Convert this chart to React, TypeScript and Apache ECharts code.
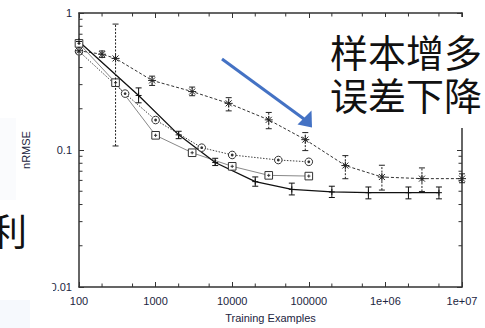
import React, { useEffect, useRef } from "react";
import * as echarts from "echarts";

// ---- data ----
const xMinorTicks = [200, 500, 2000, 5000, 20000, 50000, 200000, 500000, 2000000, 5000000];
const yMinorTicks = [0.02, 0.03, 0.04, 0.05, 0.06, 0.07, 0.08, 0.09, 0.2, 0.3, 0.4, 0.5, 0.6, 0.7, 0.8, 0.9];

const solidX = [100, 600, 2000, 6000, 20000, 60000, 200000, 600000, 2000000, 5000000];
const solidY = [0.62, 0.25, 0.129, 0.081, 0.0588, 0.0516, 0.0494, 0.0488, 0.0488, 0.0488];
const solidLo = [null, 0.221, 0.121, 0.077, 0.0544, 0.047, 0.045, 0.044, 0.044, 0.044];
const solidHi = [null, 0.284, 0.137, 0.087, 0.0636, 0.0573, 0.0544, 0.0537, 0.0537, 0.0537];

const starX = [100, 200, 300, 900, 3000, 9000, 30000, 90000, 300000, 900000, 3000000, 10000000];
const starY = [0.53, 0.5, 0.466, 0.322, 0.267, 0.219, 0.166, 0.119, 0.077, 0.0635, 0.0618, 0.0618];
const starLo = [null, 0.474, 0.107, 0.296, 0.249, 0.193, 0.143, 0.099, 0.0617, 0.051, 0.0498, 0.0577];
const starHi = [null, 0.528, 0.83, 0.346, 0.288, 0.241, 0.188, 0.134, 0.091, 0.0774, 0.074, 0.067];

const circX = [100, 400, 1000, 4000, 10000, 40000, 100000];
const circY = [0.525, 0.258, 0.1655, 0.104, 0.092, 0.0845, 0.082];

const sqX = [100, 300, 1000, 3000, 10000, 30000, 100000];
const sqY = [0.6, 0.31, 0.128, 0.0955, 0.076, 0.0653, 0.0645];

const xAxisName = "Training Examples";
const yAxisName = "nRMSE";
const noteLines = ["样本增多", "误差下降"];
const sideChar = "利";

// ---- styles ----
const LABEL_COLOR = "#1c2541";
const AXIS_COLOR = "#333";
const FONT = "Liberation Sans, Arial, sans-serif";

function markerSeries(
  xs: number[],
  ys: number[],
  lo: (number | null)[] | null,
  hi: (number | null)[] | null,
  kind: string,
  color: string,
  dashedBars: boolean
) {
  return {
    type: "custom",
    xAxisIndex: 0,
    yAxisIndex: 0,
    silent: true,
    z: 4,
    data: xs.map((x, i) => [x, ys[i]]),
    encode: { x: 0, y: 1 },
    renderItem: (params: any, api: any) => {
      const i = params.dataIndex;
      const p = api.coord([xs[i], ys[i]]);
      const children: any[] = [];
      if (lo && hi && lo[i] != null && hi[i] != null) {
        const a = api.coord([xs[i], lo[i]]);
        const b = api.coord([xs[i], hi[i]]);
        const st: any = { stroke: color, lineWidth: 1 };
        if (dashedBars) st.lineDash = [2, 1.5];
        children.push({ type: "line", shape: { x1: p[0], y1: a[1], x2: p[0], y2: b[1] }, style: st });
        children.push({ type: "line", shape: { x1: p[0] - 3, y1: a[1], x2: p[0] + 3, y2: a[1] }, style: { stroke: color, lineWidth: 1 } });
        children.push({ type: "line", shape: { x1: p[0] - 3, y1: b[1], x2: p[0] + 3, y2: b[1] }, style: { stroke: color, lineWidth: 1 } });
      }
      const s = { stroke: color, lineWidth: 1 };
      if (kind === "plus") {
        children.push({ type: "line", shape: { x1: p[0] - 3, y1: p[1], x2: p[0] + 3, y2: p[1] }, style: s });
        children.push({ type: "line", shape: { x1: p[0], y1: p[1] - 3, x2: p[0], y2: p[1] + 3 }, style: s });
      } else if (kind === "star") {
        children.push({ type: "line", shape: { x1: p[0] - 4, y1: p[1], x2: p[0] + 4, y2: p[1] }, style: s });
        children.push({ type: "line", shape: { x1: p[0], y1: p[1] - 4, x2: p[0], y2: p[1] + 4 }, style: s });
        children.push({ type: "line", shape: { x1: p[0] - 3, y1: p[1] - 3, x2: p[0] + 3, y2: p[1] + 3 }, style: s });
        children.push({ type: "line", shape: { x1: p[0] - 3, y1: p[1] + 3, x2: p[0] + 3, y2: p[1] - 3 }, style: s });
      } else if (kind === "circle") {
        children.push({ type: "circle", shape: { cx: p[0], cy: p[1], r: 3.8 }, style: { fill: "#fff", stroke: color, lineWidth: 1 } });
        children.push({ type: "circle", shape: { cx: p[0], cy: p[1], r: 1.4 }, style: { fill: color } });
      } else if (kind === "square") {
        children.push({ type: "rect", shape: { x: p[0] - 3.8, y: p[1] - 3.8, width: 7.6, height: 7.6 }, style: { fill: "#fff", stroke: color, lineWidth: 1 } });
        children.push({ type: "line", shape: { x1: p[0] - 1.6, y1: p[1], x2: p[0] + 1.6, y2: p[1] }, style: s });
        children.push({ type: "line", shape: { x1: p[0], y1: p[1] - 1.6, x2: p[0], y2: p[1] + 1.6 }, style: s });
      }
      return { type: "group", children };
    },
  };
}

function minorTickSeries(values: number[], horizontal: boolean) {
  return {
    type: "custom",
    xAxisIndex: 0,
    yAxisIndex: 0,
    silent: true,
    z: 3,
    data: values.map((v) => (horizontal ? [v, 0.1] : [1000, v])),
    encode: { x: 0, y: 1 },
    renderItem: (params: any, api: any) => {
      const cs = params.coordSys;
      const st = { stroke: AXIS_COLOR, lineWidth: 1 };
      const L = 3.5;
      if (horizontal) {
        const px = api.coord([api.value(0), 0.1])[0];
        const b = cs.y + cs.height;
        const t = cs.y;
        return {
          type: "group",
          children: [
            { type: "line", shape: { x1: px, y1: b, x2: px, y2: b - L }, style: st },
            { type: "line", shape: { x1: px, y1: t, x2: px, y2: t + L }, style: st },
          ],
        };
      }
      const py = api.coord([1000, api.value(1)])[1];
      const l = cs.x;
      const r = cs.x + cs.width;
      return {
        type: "group",
        children: [
          { type: "line", shape: { x1: l, y1: py, x2: l + L, y2: py }, style: st },
          { type: "line", shape: { x1: r, y1: py, x2: r - L, y2: py }, style: st },
        ],
      };
    },
  };
}

const xFmt = (v: number) => {
  const e = Math.round(Math.log10(v));
  return e >= 6 ? "1e+0" + e : String(Math.round(v));
};
const yFmt = (v: number) => String(Number(v.toPrecision(2)));

export default function App() {
  const ref = useRef<HTMLDivElement>(null);
  useEffect(() => {
    if (!ref.current) return;
    const chart = echarts.init(ref.current, null, { renderer: "svg" });
    const axisCommon = {
      type: "log",
      logBase: 10,
      axisLine: { show: true, onZero: false, lineStyle: { color: AXIS_COLOR, width: 1.5 } },
      axisTick: { show: true, inside: true, length: 5, lineStyle: { color: AXIS_COLOR, width: 1 } },
      splitLine: { show: false },
    };
    const option: any = {
      animation: false,
      backgroundColor: "#fff",
      grid: { left: 79, right: 23, top: 13, bottom: 36, containLabel: false },
      xAxis: [
        {
          ...axisCommon,
          min: 100,
          max: 10000000,
          position: "bottom",
          name: xAxisName,
          nameLocation: "middle",
          nameGap: 25,
          nameTextStyle: { fontSize: 11, color: LABEL_COLOR, fontFamily: FONT },
          axisLabel: { margin: 8, fontSize: 11, color: LABEL_COLOR, fontFamily: FONT, formatter: xFmt, showMinLabel: true, showMaxLabel: true },
        },
        {
          ...axisCommon,
          min: 100,
          max: 10000000,
          position: "top",
          axisLabel: { show: false },
        },
      ],
      yAxis: [
        {
          ...axisCommon,
          min: 0.01,
          max: 1,
          position: "left",
          name: yAxisName,
          nameLocation: "middle",
          nameGap: 48,
          nameTextStyle: { fontSize: 11, color: LABEL_COLOR, fontFamily: FONT },
          axisLabel: { margin: 7, fontSize: 11, color: LABEL_COLOR, fontFamily: FONT, formatter: yFmt, showMinLabel: true, showMaxLabel: true },
        },
        {
          ...axisCommon,
          min: 0.01,
          max: 1,
          position: "right",
          axisLabel: { show: false },
        },
      ],
      series: [
        {
          type: "line",
          data: sqX.map((x, i) => [x, sqY[i]]),
          symbol: "none",
          lineStyle: { color: "#888", width: 1 },
          z: 2,
        },
        {
          type: "line",
          data: circX.map((x, i) => [x, circY[i]]),
          symbol: "none",
          lineStyle: { color: "#444", width: 1, type: [1.5, 1.5] },
          z: 2,
        },
        {
          type: "line",
          data: starX.map((x, i) => [x, starY[i]]),
          symbol: "none",
          lineStyle: { color: "#333", width: 1, type: [3, 2] },
          z: 2,
        },
        {
          type: "line",
          data: solidX.map((x, i) => [x, solidY[i]]),
          symbol: "none",
          lineStyle: { color: "#111", width: 1.3 },
          z: 2,
        },
        minorTickSeries(xMinorTicks, true),
        minorTickSeries(yMinorTicks, false),
        markerSeries(sqX, sqY, null, null, "square", "#333", false),
        markerSeries(circX, circY, null, null, "circle", "#333", false),
        markerSeries(starX, starY, starLo, starHi, "star", "#222", true),
        markerSeries(solidX, solidY, solidLo, solidHi, "plus", "#111", false),
      ],
      graphic: [
        { type: "rect", z: 100, shape: { x: 0, y: 118, width: 16, height: 82 }, style: { fill: "#fafbfd" } },
        { type: "rect", z: 100, shape: { x: 0, y: 284, width: 53, height: 16 }, style: { fill: "#ffffff" } },
        { type: "rect", z: 100, shape: { x: 0, y: 300, width: 30, height: 28 }, style: { fill: "#f6f9fd" } },
        { type: "rect", z: 100, shape: { x: 322, y: 17, width: 163, height: 111 }, style: { fill: "#ffffff" } },
        {
          type: "line",
          z: 101,
          shape: { x1: 222, y1: 59, x2: 304, y2: 119 },
          style: { stroke: "#4472C4", lineWidth: 3 },
        },
        {
          type: "polygon",
          z: 101,
          shape: { points: [[311.5, 110.5], [312, 127.5], [297.5, 124.5]] },
          style: { fill: "#4472C4" },
        },
        {
          type: "text",
          z: 102,
          x: 330,
          y: 29,
          style: {
            text: noteLines.join("\n"),
            fontSize: 38,
            lineHeight: 43,
            fontFamily: "Noto Sans CJK SC",
            fill: "#111",
            verticalAlign: "top",
          },
        },
        {
          type: "text",
          z: 102,
          x: 27,
          y: 230,
          style: { text: sideChar, fontSize: 37, lineHeight: 38, fontFamily: "Noto Sans CJK SC", fill: "#111", align: "right", verticalAlign: "middle" },
        },
      ],
    };
    chart.setOption(option);
    return () => chart.dispose();
  }, []);
  return <div ref={ref} style={{ position: "absolute", left: 0, top: 0, width: 485, height: 328 }} />;
}
